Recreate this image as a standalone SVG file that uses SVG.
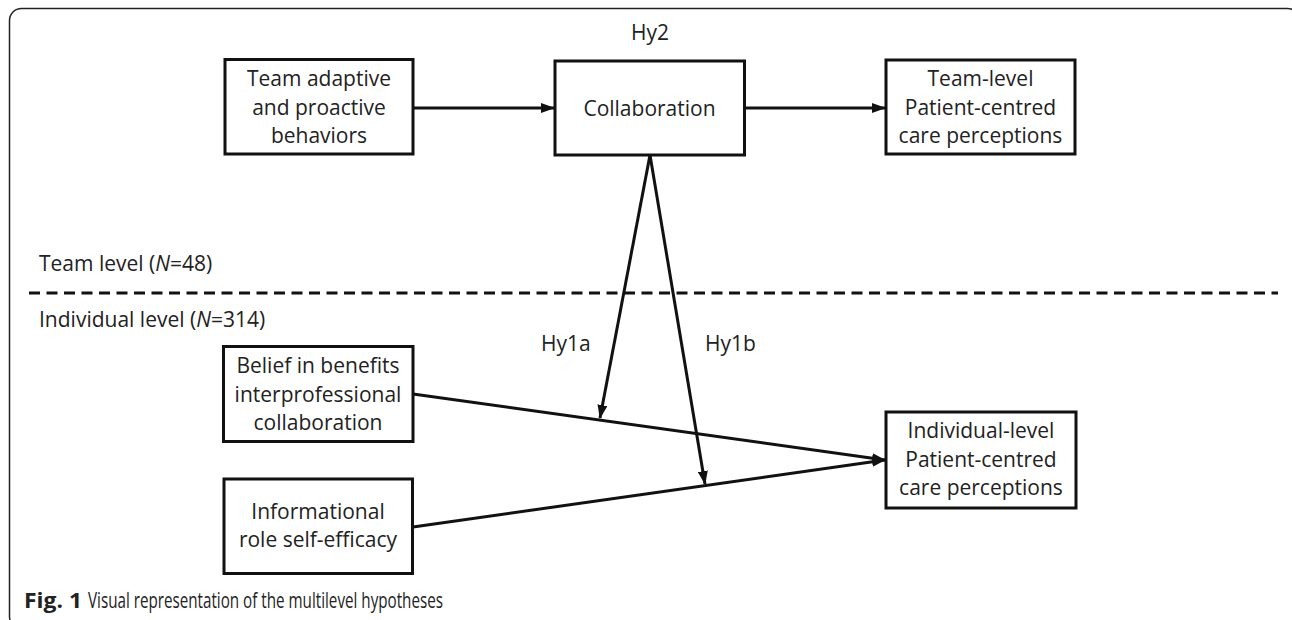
<svg xmlns="http://www.w3.org/2000/svg" width="1292" height="620" viewBox="0 0 1292 620">
<style>
.box{fill:#fff;stroke:#111;stroke-width:3}
.t{font-family:"Open Sans",Lato,sans-serif;font-size:21px;fill:#222;text-anchor:middle}
.l{font-family:"Open Sans",Lato,sans-serif;font-size:21px;fill:#222}
.c{stroke:#111;stroke-width:3;fill:none}
.cap{font-family:"Open Sans",Lato,sans-serif;font-size:21px;fill:#222}
</style>
<defs>
<marker id="ah" markerWidth="14" markerHeight="10" refX="13" refY="5" orient="auto" markerUnits="userSpaceOnUse">
<path d="M0,0 L14,5 L0,10 z" fill="#111"/>
</marker>
</defs>
<rect x="9.5" y="8.5" width="1290" height="620" rx="12" fill="#fff" stroke="#222" stroke-width="1.5"/>
<g id="connectors">
<line class="c" x1="413" y1="108" x2="554" y2="108" marker-end="url(#ah)"/>
<line class="c" x1="744" y1="108" x2="885" y2="108" marker-end="url(#ah)"/>
<line class="c" x1="650" y1="155" x2="600" y2="418" marker-end="url(#ah)"/>
<line class="c" x1="650" y1="155" x2="705" y2="484" marker-end="url(#ah)"/>
<line class="c" x1="413" y1="394" x2="885" y2="460" marker-end="url(#ah)"/>
<line class="c" x1="413" y1="527" x2="885" y2="460" marker-end="url(#ah)"/>
<line x1="29" y1="293" x2="1278" y2="293" stroke="#111" stroke-width="3" stroke-dasharray="11 6.5"/>
</g>
<g id="team-adaptive">
<rect class="box" x="225" y="59.5" width="188" height="94.5"/>
<text class="t" x="319" y="86">Team adaptive</text>
<text class="t" x="319" y="114.5">and proactive</text>
<text class="t" x="319" y="143">behaviors</text>
</g>
<g id="collaboration">
<rect class="box" x="555" y="61" width="189.5" height="94"/>
<text class="t" x="649.5" y="116">Collaboration</text>
</g>
<g id="team-level-pcc">
<rect class="box" x="886" y="60" width="189" height="94"/>
<text class="t" x="980.5" y="86">Team-level</text>
<text class="t" x="980.5" y="114.5">Patient-centred</text>
<text class="t" x="980.5" y="143">care perceptions</text>
</g>
<g id="belief">
<rect class="box" x="223.5" y="346.5" width="189.5" height="95"/>
<text class="t" x="318" y="373">Belief in benefits</text>
<text class="t" x="318" y="402">interprofessional</text>
<text class="t" x="318" y="430">collaboration</text>
</g>
<g id="informational">
<rect class="box" x="224" y="479" width="188.5" height="94.5"/>
<text class="t" x="318" y="519">Informational</text>
<text class="t" x="318" y="547">role self-efficacy</text>
</g>
<g id="individual-level-pcc">
<rect class="box" x="886" y="412" width="190" height="96"/>
<text class="t" x="981" y="438">Individual-level</text>
<text class="t" x="981" y="467">Patient-centred</text>
<text class="t" x="981" y="495">care perceptions</text>
</g>
<g id="labels">
<text class="t" x="650" y="40">Hy2</text>
<text class="l" x="541" y="351">Hy1a</text>
<text class="l" x="705" y="351">Hy1b</text>
<text class="l" x="39" y="271">Team level (<tspan font-style="italic">N</tspan>=48)</text>
<text class="l" x="39" y="327">Individual level (<tspan font-style="italic">N</tspan>=314)</text>
</g>
<g id="caption">
<text class="cap" x="24" y="608" font-weight="bold" textLength="58" lengthAdjust="spacingAndGlyphs">Fig. 1</text>
<text class="cap" x="88" y="608" textLength="355" lengthAdjust="spacingAndGlyphs">Visual representation of the multilevel hypotheses</text>
</g>
</svg>
